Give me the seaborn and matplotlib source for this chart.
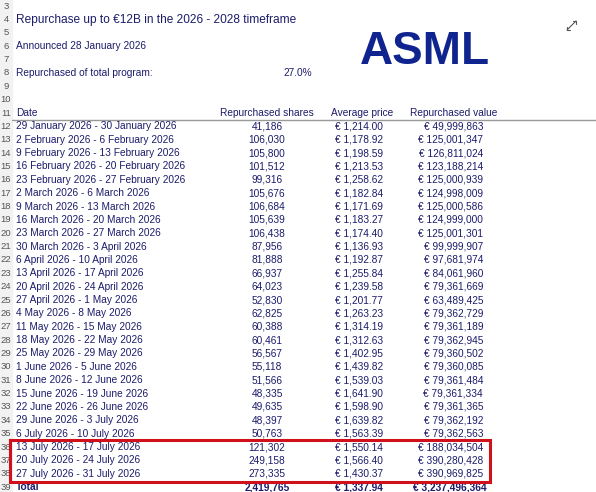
import matplotlib.pyplot as plt
import matplotlib.patches as patches
import seaborn as sns

sns.set_theme(style="white")
plt.rcParams["font.family"] = ["Liberation Sans", "DejaVu Sans"]

# %% data
dates = ["29 January 2026 - 30 January 2026", "2 February 2026 - 6 February 2026",
         "9 February 2026 - 13 February 2026", "16 February 2026 - 20 February 2026",
         "23 February 2026 - 27 February 2026", "2 March 2026 - 6 March 2026",
         "9 March 2026 - 13 March 2026", "16 March 2026 - 20 March 2026",
         "23 March 2026 - 27 March 2026", "30 March 2026 - 3 April 2026",
         "6 April 2026 - 10 April 2026", "13 April 2026 - 17 April 2026",
         "20 April 2026 - 24 April 2026", "27 April 2026 - 1 May 2026",
         "4 May 2026 - 8 May 2026", "11 May 2026 - 15 May 2026",
         "18 May 2026 - 22 May 2026", "25 May 2026 - 29 May 2026",
         "1 June 2026 - 5 June 2026", "8 June 2026 - 12 June 2026",
         "15 June 2026 - 19 June 2026", "22 June 2026 - 26 June 2026",
         "29 June 2026 - 3 July 2026", "6 July 2026 - 10 July 2026",
         "13 July 2026 - 17 July 2026", "20 July 2026 - 24 July 2026",
         "27 July 2026 - 31 July 2026"]
shares = [41186, 106030, 105800, 101512, 99316, 105676, 106684, 105639, 106438,
          87956, 81888, 66937, 64023, 52830, 62825, 60388, 60461, 56567, 55118,
          51566, 48335, 49635, 48397, 50763, 121302, 249158, 273335]
prices = [1214.00, 1178.92, 1198.59, 1213.53, 1258.62, 1182.84, 1171.69, 1183.27,
          1174.40, 1136.93, 1192.87, 1255.84, 1239.58, 1201.77, 1263.23, 1314.19,
          1312.63, 1402.95, 1439.82, 1539.03, 1641.90, 1598.90, 1639.82, 1563.39,
          1550.14, 1566.40, 1430.37]
values = [49999863, 125001347, 126811024, 123188214, 125000939, 124998009,
          125000586, 124999000, 125001301, 99999907, 97681974, 84061960, 79361669,
          63489425, 79362729, 79361189, 79362945, 79360502, 79360085, 79361484,
          79361334, 79361365, 79362192, 79362563, 188034504, 390280428, 390969825]
total_shares = 2419765
total_price = 1337.94
total_value = 3237496364
pct_done = 27.0

# %% layout
navy = "#1c1c6b"
fig = plt.figure(figsize=(5.96, 4.92), dpi=100)
ax = fig.add_axes([0, 0, 1, 1])
ax.set_xlim(0, 596)
ax.set_ylim(492, 0)
ax.axis("off")

row_h = 13.36
def ry(r):
    return 113 + (r - 11) * row_h

ax.add_patch(patches.Rectangle((0, 0), 12, 492, color="#f2f2f2", zorder=0))
for r in range(3, 40):
    ax.text(6, ry(r), str(r), ha="center", va="center", fontsize=6.8, color="#555555")

fs = 7.3
ax.text(16, ry(4) + 1, "Repurchase up to €12B in the 2026 - 2028 timeframe",
        fontsize=8.6, color=navy, va="center")
ax.text(16, ry(6), "Announced 28 January 2026", fontsize=fs, color=navy, va="center")
ax.text(16, ry(8), "Repurchased of total program:", fontsize=fs, color=navy, va="center")
ax.text(298, ry(8), f"{pct_done:.1f}%", fontsize=fs, color=navy, va="center", ha="center")
ax.text(425, 52, "ASML", fontsize=33, fontweight="bold", color="#10248f",
        ha="center", va="center")

# expand icon
gray = "#555555"
ax.plot([567, 576], [30, 21], color=gray, lw=0.8)
ax.plot([573, 576, 576], [21, 21, 24], color=gray, lw=0.8)
ax.plot([567, 567, 570], [27, 30, 30], color=gray, lw=0.8)

ax.text(16, ry(11), "Date", fontsize=fs, color=navy, va="center")
ax.text(267, ry(11), "Repurchased shares", fontsize=fs, color=navy, va="center", ha="center")
ax.text(362, ry(11), "Average price", fontsize=fs, color=navy, va="center", ha="center")
ax.text(454, ry(11), "Repurchased value", fontsize=fs, color=navy, va="center", ha="center")
ax.plot([12, 596], [ry(11) + 7, ry(11) + 7], color="#999999", lw=1)

for i, (d, s, p, v) in enumerate(zip(dates, shares, prices, values)):
    y = ry(12 + i)
    ax.text(16, y, d, fontsize=fs, color=navy, va="center")
    ax.text(267, y, f"{s:,}", fontsize=fs, color=navy, va="center", ha="center")
    ax.text(383, y, f"€ {p:,.2f}", fontsize=fs, color=navy, va="center", ha="right")
    ax.text(483, y, f"€ {v:,}", fontsize=fs, color=navy, va="center", ha="right")

y = ry(39)
ax.text(16, y, "Total", fontsize=fs, color=navy, va="center", fontweight="bold")
ax.text(267, y, f"{total_shares:,}", fontsize=fs, color=navy, va="center", ha="center", fontweight="bold")
ax.text(383, y, f"€ {total_price:,.2f}", fontsize=fs, color=navy, va="center", ha="right", fontweight="bold")
ax.text(487, y, f"€ {total_value:,}", fontsize=fs, color=navy, va="center", ha="right", fontweight="bold")

ax.add_patch(patches.Rectangle((10, ry(36) - 7.5), 480, 3 * row_h + 2, fill=False,
                               edgecolor="#d0101a", lw=2.2, zorder=5))

fig.savefig("out.png", dpi=100)
